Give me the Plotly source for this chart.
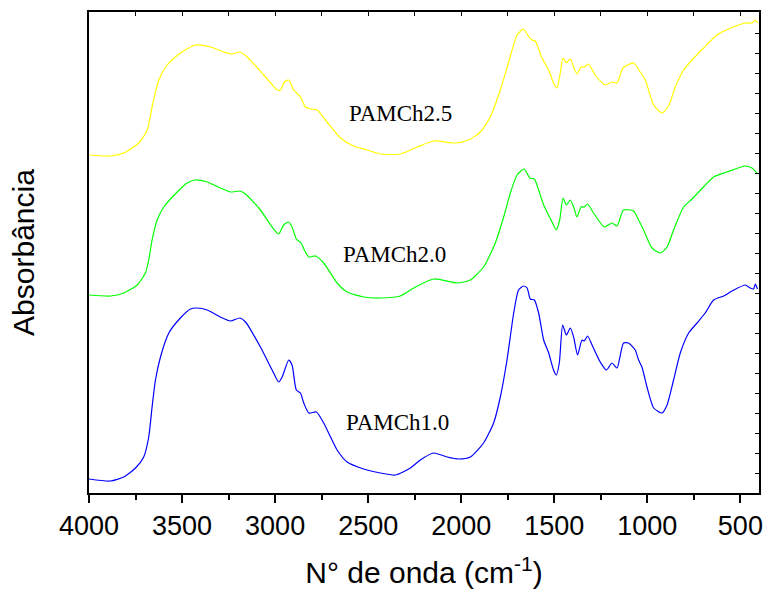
import plotly.graph_objects as go

# Wavenumbers (cm^-1) and absorbance (a.u.)
wn_10 = [4000, 3885, 3813, 3750, 3706, 3679, 3661, 3643, 3616, 3571, 3509, 3455, 3419, 3365, 3294, 3240,
         3190, 3159, 3079, 3016, 2981, 2962, 2927, 2909, 2886, 2864, 2846, 2819, 2778, 2739, 2667, 2613,
         2524, 2434, 2354, 2273, 2220, 2148, 2076, 2014, 1951, 1880, 1826, 1790, 1754, 1718, 1692, 1665,
         1646, 1629, 1607, 1584, 1557, 1530, 1504, 1489, 1473, 1455, 1435, 1414, 1396, 1375, 1351, 1339,
         1321, 1297, 1253, 1220, 1190, 1163, 1128, 1101, 1065, 1047, 1029, 1002, 966, 921, 894, 859,
         823, 778, 733, 689, 644, 590, 545, 474, 447, 429, 420, 408]
ab_10 = [0.14, 0.12, 0.16, 0.25, 0.36, 0.56, 0.86, 1.13, 1.36, 1.60, 1.75, 1.84, 1.85, 1.83, 1.76, 1.72,
         1.75, 1.71, 1.46, 1.23, 1.11, 1.16, 1.33, 1.28, 1.03, 1.00, 0.90, 0.80, 0.81, 0.70, 0.43, 0.31,
         0.24, 0.20, 0.18, 0.25, 0.33, 0.40, 0.36, 0.34, 0.36, 0.50, 0.70, 0.96, 1.33, 1.80, 2.03, 2.07,
         2.05, 1.94, 1.93, 1.80, 1.53, 1.40, 1.23, 1.18, 1.30, 1.68, 1.58, 1.65, 1.56, 1.38, 1.53, 1.52,
         1.57, 1.48, 1.31, 1.23, 1.30, 1.25, 1.50, 1.50, 1.43, 1.33, 1.26, 1.06, 0.85, 0.80, 0.88, 1.13,
         1.40, 1.60, 1.70, 1.80, 1.93, 1.97, 2.02, 2.08, 2.05, 2.04, 2.09, 2.04]

wn_20 = [4000, 3885, 3813, 3741, 3697, 3679, 3661, 3634, 3598, 3526, 3473, 3428, 3365, 3294, 3240, 3190,
         3159, 3079, 3016, 2981, 2954, 2927, 2909, 2886, 2860, 2843, 2819, 2783, 2739, 2667, 2613, 2524,
         2434, 2327, 2255, 2148, 2022, 1951, 1880, 1817, 1772, 1736, 1700, 1661, 1632, 1607, 1584, 1557,
         1512, 1489, 1471, 1453, 1435, 1414, 1396, 1378, 1356, 1339, 1321, 1289, 1231, 1190, 1163, 1128,
         1074, 1047, 1020, 975, 930, 894, 859, 805, 760, 698, 644, 572, 474, 438, 411]
ab_20 = [1.98, 1.97, 2.00, 2.08, 2.20, 2.33, 2.53, 2.73, 2.86, 3.01, 3.10, 3.13, 3.11, 3.05, 3.01, 3.02,
         2.99, 2.83, 2.66, 2.59, 2.68, 2.71, 2.66, 2.54, 2.50, 2.43, 2.36, 2.37, 2.30, 2.10, 2.01, 1.96,
         1.95, 1.97, 2.05, 2.14, 2.10, 2.13, 2.26, 2.50, 2.76, 3.00, 3.18, 3.24, 3.15, 3.14, 3.03, 2.88,
         2.71, 2.63, 2.73, 2.95, 2.88, 2.93, 2.86, 2.76, 2.86, 2.86, 2.89, 2.80, 2.66, 2.70, 2.67, 2.83,
         2.82, 2.73, 2.63, 2.45, 2.40, 2.46, 2.63, 2.86, 2.94, 3.06, 3.16, 3.21, 3.27, 3.25, 3.20]

wn_25 = [4000, 3885, 3813, 3733, 3687, 3661, 3625, 3580, 3509, 3428, 3347, 3276, 3231, 3190, 3150, 3061,
         2989, 2971, 2950, 2927, 2900, 2864, 2837, 2810, 2774, 2721, 2649, 2578, 2506, 2434, 2327, 2237,
         2148, 2032, 1960, 1897, 1844, 1790, 1745, 1700, 1665, 1643, 1620, 1602, 1566, 1530, 1504, 1485,
         1468, 1453, 1435, 1414, 1396, 1378, 1356, 1339, 1316, 1280, 1226, 1190, 1163, 1131, 1074, 1038,
         1011, 966, 921, 886, 850, 805, 760, 698, 626, 564, 474, 438, 420, 408]
ab_25 = [3.38, 3.37, 3.40, 3.50, 3.63, 3.86, 4.13, 4.28, 4.40, 4.48, 4.46, 4.41, 4.39, 4.41, 4.36, 4.18,
         4.03, 4.03, 4.11, 4.13, 4.03, 3.96, 3.86, 3.84, 3.83, 3.71, 3.55, 3.47, 3.43, 3.39, 3.39, 3.46,
         3.52, 3.50, 3.53, 3.61, 3.76, 4.03, 4.31, 4.58, 4.64, 4.58, 4.53, 4.52, 4.35, 4.23, 4.10, 4.05,
         4.20, 4.35, 4.30, 4.34, 4.26, 4.19, 4.26, 4.26, 4.29, 4.18, 4.08, 4.11, 4.10, 4.25, 4.30, 4.21,
         4.13, 3.88, 3.80, 3.87, 4.06, 4.23, 4.33, 4.45, 4.58, 4.64, 4.70, 4.70, 4.73, 4.70]

series_names = ["PAMCh1.0", "PAMCh2.0", "PAMCh2.5"]
series_colors = ["#0000FF", "#00FF00", "#FFFF00"]
label_x = [2343, 2359, 2327]
label_y = [0.71, 2.39, 3.80]
x_tickvals = [4000, 3500, 3000, 2500, 2000, 1500, 1000, 500]

X_RANGE = [4000, 400]
Y_RANGE = [0, 4.81]

fig = go.Figure()
for wn, ab, name, col in zip([wn_10, wn_20, wn_25], [ab_10, ab_20, ab_25], series_names, series_colors):
    fig.add_trace(go.Scatter(x=wn, y=ab, mode="lines", name=name,
                             line=dict(color=col, width=1.2, shape="spline", smoothing=0.6),
                             showlegend=False, hoverinfo="skip"))

# empty trace to activate the mirror axes (top and right)
fig.add_trace(go.Scatter(x=[None], y=[None], xaxis="x2", yaxis="y2", showlegend=False, hoverinfo="skip"))

for nm, lx, ly in zip(series_names, label_x, label_y):
    fig.add_annotation(x=lx, y=ly, text=nm, showarrow=False,
                       font=dict(family="Liberation Serif, Times New Roman, serif", size=23, color="black"))

fig.update_layout(
    width=768, height=601,
    margin=dict(l=89, r=9, t=12, b=108),
    paper_bgcolor="white", plot_bgcolor="white",
    font=dict(family="Liberation Sans, Arial, sans-serif", color="black"),
    xaxis=dict(range=X_RANGE, tickvals=x_tickvals, ticktext=[str(v) for v in x_tickvals],
               ticks="outside", ticklen=8, tickwidth=1.5, tickcolor="black",
               minor=dict(dtick=250, tick0=0, ticks="outside", ticklen=5, tickwidth=1.5, tickcolor="black"),
               showline=True, linewidth=2, linecolor="black", showgrid=False, zeroline=False,
               tickfont=dict(size=27), automargin=False,
               title=dict(text="N° de onda (cm<sup>-1</sup>)", font=dict(size=30), standoff=22)),
    xaxis2=dict(range=X_RANGE, overlaying="x", side="top", anchor="y",
                tick0=0, dtick=250, ticks="inside", ticklen=4, tickwidth=1, tickcolor="black",
                showticklabels=False, showline=True, linewidth=1.5, linecolor="black",
                showgrid=False, zeroline=False, automargin=False),
    yaxis=dict(range=Y_RANGE, showticklabels=False, ticks="", showline=True, linewidth=2,
               linecolor="black", showgrid=False, zeroline=False, automargin=False,
               title=dict(text="Absorbância", font=dict(size=30), standoff=44)),
    yaxis2=dict(range=Y_RANGE, overlaying="y", side="right", anchor="x",
                tick0=0, dtick=0.2, ticks="inside", ticklen=4, tickwidth=1, tickcolor="black",
                showticklabels=False, showline=True, linewidth=1.5, linecolor="black",
                showgrid=False, zeroline=False, automargin=False),
)

fig.write_html("out.html", config={"displayModeBar": False},
               post_script="document.body.style.margin='0';document.body.style.padding='0';"
                           "document.body.style.overflow='hidden';")
